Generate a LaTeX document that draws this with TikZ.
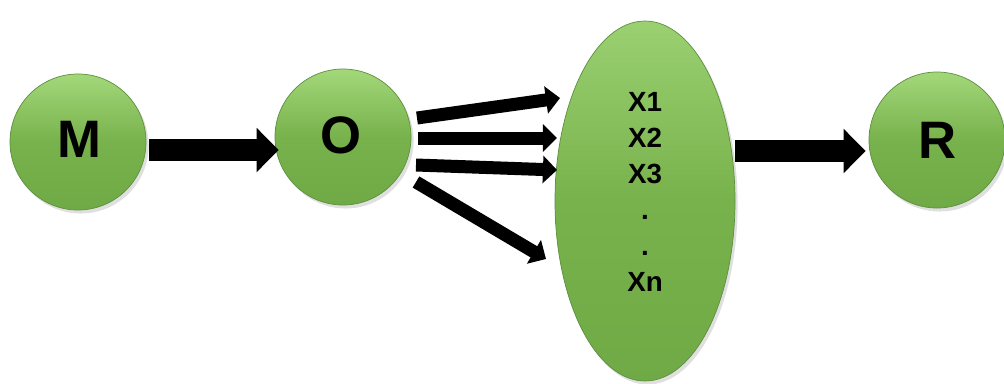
\documentclass[tikz,border=0pt]{standalone}
\usepackage{fontspec}
\setmainfont{Liberation Sans}
\usetikzlibrary{arrows.meta,shapes.geometric,shadows,calc}
\definecolor{ballTop}{HTML}{A3D87A}
\definecolor{ballMid}{HTML}{78B24C}
\definecolor{ballBot}{HTML}{70AA46}
\definecolor{ballEdge}{HTML}{5E8F3E}
\tikzset{
  ball/.style={circle, minimum size=136*0.02cm, inner sep=0pt,
    draw=ballEdge, line width=0.4pt,
    top color=ballTop, bottom color=ballBot, middle color=ballMid,
    drop shadow={opacity=0.25, shadow xshift=1.5pt, shadow yshift=-2pt},
    font=\fontsize{30}{30}\selectfont\bfseries},
  egg/.style={ellipse, minimum width=180*0.02cm, minimum height=360*0.02cm, inner sep=0pt,
    draw=ballEdge, line width=0.4pt,
    top color=ballTop!80!ballMid, bottom color=ballBot, middle color=ballMid,
    drop shadow={opacity=0.25, shadow xshift=1.5pt, shadow yshift=-2pt}},
  listtext/.style={align=center, font=\fontsize{15.8}{20.4}\selectfont\bfseries, inner sep=0pt},
  bigarrow/.style={line width=12.5pt, black, -{Triangle[length=12.5pt,width=24.4pt]}},
  thinarrow/.style={line width=7.4pt, black, -{Triangle[length=8pt,width=15.3pt]}}
}
\begin{document}
\begin{tikzpicture}[x=0.02cm, y=-0.02cm]
  \useasboundingbox (0,0) rectangle (1004,383);

  % nodes
  \node[ball] (M) at (78,142) {};
  \node[ball] (O) at (343,137) {};
  \node[egg]  (X) at (645,201) {};
  \node[ball] (R) at (937,140) {};

  % labels
  \node[font=\fontsize{30}{30}\selectfont\bfseries] (Mt) at (79,139) {M};
  \node[font=\fontsize{30}{30}\selectfont\bfseries] (Ot) at (341,135) {O};
  \node[font=\fontsize{30}{30}\selectfont\bfseries] (Rt) at (938,140) {R};
  \node[listtext] (Xt) at ([shift={(0,-9)}]X.center) {X1\\X2\\X3\\.\\.\\Xn};

  % connectors
  \draw[bigarrow] ([shift={(3,8)}]M.east) -- ([shift={(4,13)}]O.west);
  \draw[bigarrow] ([shift={(0,-50)}]X.east) -- ([shift={(-3,11)}]R.west);

  \draw[thinarrow] ([shift={(74,-19)}]O.center) -- ([shift={(-85,-103)}]X.center);
  \draw[thinarrow] ([shift={(75,1)}]O.center)   -- ([shift={(-88,-63)}]X.center);
  \draw[thinarrow] ([shift={(73,28)}]O.center)  -- ([shift={(-88,-31)}]X.center);
  \draw[thinarrow] ([shift={(73,45)}]O.center)  -- ([shift={(-99,58)}]X.center);
\end{tikzpicture}
\end{document}
